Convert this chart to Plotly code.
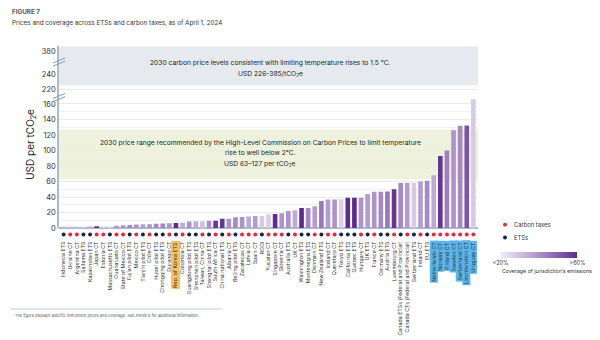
import plotly.graph_objects as go

categories = [
    "Indonesia ETS", "Ukraine CT", "Argentina CT", "Saitama ETS", "Kazakhstan ETS",
    "Japan CT", "Estonia CT", "Massachusetts ETS", "Guanajuato CT", "State of Mexico CT",
    "Fujian pilot ETS", "Mexico CT", "Tianjin pilot ETS", "Chile CT", "Hubei pilot ETS",
    "Chongqing pilot ETS", "Durango CT", "Rep. of Korea ETS", "Colombia CT", "Guangdong pilot ETS",
    "Shenzhen pilot ETS", "Taiwan, China CT", "Shanghai pilot ETS", "South Africa CT", "China national ETS",
    "Albania CT", "Beijing pilot ETS", "Zacatecas CT", "Latvia CT", "Spain CT",
    "RGGI", "Yucatan CT", "Singapore CT", "Slovenia CT", "Australia ETS",
    "UK CT", "Washington ETS", "Montenegro ETS", "Denmark CT", "New Zealand ETS",
    "Iceland CT", "Queretaro CT", "Tokyo ETS", "California ETS", "Quebec ETS",
    "Hungary CT", "UK ETS", "France CT", "Germany ETS", "Austria ETS",
    "Luxembourg CT", "Canada ETSs (Federal and Provincial)", "Canada CTs (Federal and Provincial)",
    "Switzerland ETS", "Ireland CT",
    "EU ETS", "Netherlands CT", "Norway CT", "Finland CT", "Sweden CT",
    "Switzerland CT", "Liechtenstein CT", "Uruguay CT",
]
prices = [
    1.0, 1.0, 1.0, 0.8, 1.1,
    2.5, 1.8, 2.0, 3.0, 3.8,
    4.0, 4.7, 4.8, 5.0, 5.5,
    6.0, 6.3, 6.5, 7.0, 8.6,
    8.7, 8.8, 9.5, 9.6, 12.0,
    12.2, 14.0, 14.4, 15.0, 15.5,
    15.6, 18.0, 18.2, 19.0, 22.0,
    23.0, 26.0, 26.0, 28.0, 35.0,
    37.0, 37.0, 37.2, 39.0, 39.0,
    39.2, 44.0, 47.0, 47.0, 47.2,
    50.0, 58.0, 58.0,
    58.2, 60.0,
    61.0, 68.0, 93.0, 100.0, 126.0,
    132.0, 132.2, 166.0,
]
coverage = [
    30, 30, 30, 27, 35,
    60, 27, 26, 40, 40,
    42, 40, 38, 40, 42,
    42, 40, 60, 35, 40,
    35, 30, 40, 58, 58,
    40, 42, 40, 35, 38,
    28, 27, 60, 40, 40,
    35, 60, 42, 38, 45,
    38, 40, 27, 60, 60,
    40, 38, 40, 42, 45,
    58, 42, 38,
    28, 38,
    42, 35, 58, 44, 40,
    42, 52, 28,
]
korea_highlight = ["Rep. of Korea ETS"]
range_highlight = ["Netherlands CT", "Norway CT", "Finland CT", "Sweden CT",
                   "Switzerland CT", "Liechtenstein CT", "Uruguay CT"]
legend_labels = ["Carbon taxes", "ETSs"]
legend_colors = ["#E8283F", "#15264A"]
assert len(categories) == len(prices) == len(coverage)

is_ets = [("ETS" in c) or (c == "RGGI") for c in categories]
ct_cats = [c for c, e in zip(categories, is_ets) if not e]
ets_cats = [c for c, e in zip(categories, is_ets) if e]

W, H = 600, 340
def py(p):  # pixel y -> paper
    return 1 - p / H
def px(p):
    return p / W

X0, X1 = 59, 478
AXC = "#A9BBD0"
GRID = "#E9EBEE"
TXT = "#333333"
FONT = "Inter"

fig = go.Figure()
fig.add_trace(go.Bar(
    x=categories, y=prices, xaxis="x", yaxis="y",
    marker=dict(color=coverage, cmin=20, cmax=60,
                colorscale=[[0, "#F3EEF8"], [0.5, "#AE93CA"], [1, "#5E2C8D"]],
                line=dict(width=0),
                showscale=True,
                colorbar=dict(orientation="h", x=px(539), xanchor="center",
                              y=py(255.5), yanchor="top", len=77, lenmode="pixels",
                              thickness=6, outlinewidth=0, ticks="",
                              tickvals=[20, 60], ticktext=["<20%", ">60%"],
                              tickfont=dict(size=5.5, color=TXT, family=FONT),
                              xpad=0, ypad=0)),
    showlegend=False, hoverinfo="x+y",
))
fig.add_trace(go.Scatter(
    x=ct_cats, y=[0] * len(ct_cats), xaxis="x", yaxis="y4", mode="markers",
    marker=dict(color=legend_colors[0], size=4), name=legend_labels[0], showlegend=False,
))
fig.add_trace(go.Scatter(
    x=ets_cats, y=[0] * len(ets_cats), xaxis="x", yaxis="y4", mode="markers",
    marker=dict(color=legend_colors[1], size=4), name=legend_labels[1], showlegend=False,
))

normal_ticks = [c for c in categories if c not in korea_highlight and c not in range_highlight]

common_y = dict(anchor="x", showline=True, linecolor=AXC, linewidth=1.5,
                ticks="", tickfont=dict(size=7.5, color=TXT, family=FONT),
                gridcolor=GRID, gridwidth=1, fixedrange=True)

fig.update_layout(
    width=W, height=H,
    margin=dict(l=0, r=0, t=0, b=0),
    paper_bgcolor="white", plot_bgcolor="white",
    font=dict(family=FONT, color=TXT),
    bargap=0.3,
    showlegend=False,
    xaxis=dict(domain=[px(X0), px(X1)], anchor="y4", type="category",
               categoryorder="array", categoryarray=categories,
               tickmode="array", tickvals=normal_ticks, ticktext=normal_ticks,
               tickangle=-90, tickfont=dict(size=5.3, color=TXT, family=FONT),
               showline=False, showgrid=False, ticks="", range=[-0.7, len(categories) - 0.3]),
    yaxis=dict(domain=[py(231.5), py(99)], range=[0, 168.3],
               tickvals=list(range(0, 161, 20)),
               minor=dict(dtick=10, showgrid=True, gridcolor="#F0F1F3"),
               zeroline=True, zerolinecolor=AXC, zerolinewidth=1.5, **common_y),
    yaxis2=dict(domain=[py(99), py(63)], range=[209.3, 257.3],
                tickvals=[220, 240], zeroline=False, **common_y),
    yaxis3=dict(domain=[py(63), py(47)], range=[365, 386.3],
                tickvals=[380], zeroline=False, **common_y),
    yaxis4=dict(domain=[py(243), py(233)], range=[-1, 1], anchor="x",
                visible=False, fixedrange=True),
)

shapes = []
shapes.append(dict(type="rect", xref="paper", x0=px(X0), x1=px(X1), yref="y2",
                   y0=226, y1=257.3, fillcolor="#E6EAEE", line=dict(width=0), layer="between"))
shapes.append(dict(type="rect", xref="paper", x0=px(X0), x1=px(X1), yref="y3",
                   y0=365, y1=386.3, fillcolor="#E6EAEE", line=dict(width=0), layer="between"))
shapes.append(dict(type="rect", xref="paper", x0=px(X0), x1=px(X1), yref="y",
                   y0=63, y1=127, fillcolor="#EEF2DB", line=dict(width=0), layer="between"))
for yb in (99, 63):
    for dy in (-1.6, 1.6):
        shapes.append(dict(type="line", xref="paper", yref="paper",
                           x0=px(X0 - 6), x1=px(X0 + 6),
                           y0=py(yb + dy + 2.5), y1=py(yb + dy - 2.5),
                           line=dict(color="#7F9CBD", width=1)))
shapes.append(dict(type="line", xref="paper", yref="paper", x0=px(10), x1=px(222),
                   y0=py(313.5), y1=py(313.5), line=dict(color="#CFE0F0", width=1.5)))
# manual legend markers
for i, col in enumerate(legend_colors):
    cy = 228 + 13 * i
    shapes.append(dict(type="circle", xref="paper", yref="paper",
                       x0=px(503), x1=px(507), y0=py(cy + 2), y1=py(cy - 2),
                       fillcolor=col, line=dict(width=0)))
fig.update_layout(shapes=shapes)

ann = []
def note(text, x, y, size, color="#222222", xanchor="center", **kw):
    ann.append(dict(text=text, xref="paper", yref="paper", x=px(x), y=py(y),
                    xanchor=xanchor, yanchor="middle", showarrow=False,
                    font=dict(size=size, color=color, family=FONT), **kw))

note("<b>FIGURE 7</b>", 10, 12.5, 6.3, "#555555", "left")
note("Prices and coverage across ETSs and carbon taxes, as of April 1, 2024", 10, 23.5, 6.3, TXT, "left")
ann.append(dict(text="USD per tCO<sub>2</sub>e", xref="paper", yref="paper",
                x=px(31), y=py(147), textangle=-90, xanchor="center", yanchor="middle",
                showarrow=False, font=dict(size=10, color="#222222", family=FONT)))
note("2030 carbon price levels consistent with limiting temperature rises to 1.5 °C.", 270, 63.5, 6.7)
note("USD 226-385/tCO<sub>2</sub>e", 270, 75.5, 6.7)
note("2030 price range recommended by the High-Level Commission on Carbon Prices to limit temperature", 260, 145, 6.7)
note("rise to well below 2°C.", 260, 155.5, 6.7)
note("USD 63–127 per tCO<sub>2</sub>e", 260, 166.5, 6.7)
note("The figure displays specific instrument prices and coverage. See Annex B for additional information.",
     13, 320.5, 3.9, "#555555", "left")
note("Coverage of jurisdiction\u2019s emissions", 500, 275, 5.3, TXT, "left")
for i, lab in enumerate(legend_labels):
    note(lab, 512, 228 + 13 * i, 5.8, TXT, "left")
for c in korea_highlight + range_highlight:
    ann.append(dict(text=c, xref="x", yref="paper", x=c, y=py(243.5),
                    xanchor="center", yanchor="top", textangle=-90, showarrow=False,
                    bgcolor="#F7C160" if c in korea_highlight else "#5BB4EA",
                    borderpad=0.5,
                    font=dict(size=5.3, color=TXT, family=FONT)))
fig.update_layout(annotations=ann)

fig.write_html("out.html")
